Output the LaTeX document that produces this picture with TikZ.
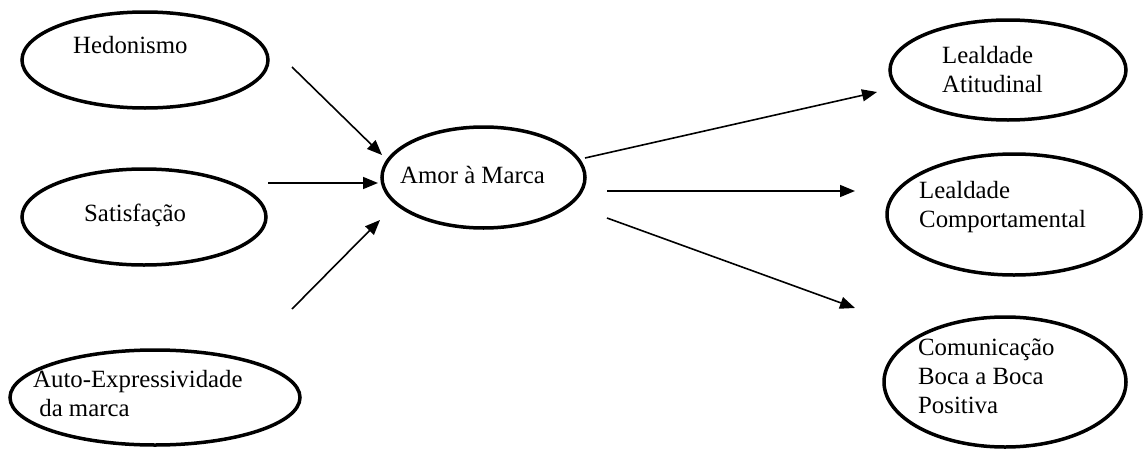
\documentclass[tikz,border=0pt]{standalone}
\usepackage{fontspec}
\setmainfont{Liberation Serif}
\usetikzlibrary{shapes.geometric,arrows.meta}
\begin{document}
\begin{tikzpicture}[x=1pt,y=-1pt,
  oval/.style={ellipse,draw,line width=3.5pt,inner sep=0pt},
  lbl/.style={anchor=base west,inner sep=0pt,align=left,font=\fontsize{24.8}{28.6}\selectfont},
  conn/.style={line width=1.6pt,-{Triangle[length=15pt,width=12pt]}}]
\useasboundingbox (0,0) rectangle (1144,450);
% ellipses
\node[oval,minimum width=246pt,minimum height=96pt] (hed) at (145,60) {};
\node[oval,minimum width=244pt,minimum height=96pt] (sat) at (144,217) {};
\node[oval,minimum width=290pt,minimum height=95pt] (aut) at (155,397.5) {};
\node[oval,minimum width=203pt,minimum height=101pt] (amor) at (483.5,177.5) {};
\node[oval,minimum width=236pt,minimum height=100pt] (la) at (1008,70) {};
\node[oval,minimum width=254pt,minimum height=121pt] (lc) at (1014,214.5) {};
\node[oval,minimum width=242pt,minimum height=130pt] (cbp) at (1005,382) {};
% texts (base = baseline of last line)
\node[lbl] (thed) at (73,53) {Hedonismo};
\node[lbl] (tsat) at (84,221) {Satisfação};
\node[lbl] (taut) at (33,416) {Auto-Expressividade\\\ da marca};
\node[lbl] (tamor) at (400,183) {Amor à Marca};
\node[lbl] (tla) at (942,92) {Lealdade\\Atitudinal};
\node[lbl] (tlc) at (919,227) {Lealdade\\Comportamental};
\node[lbl] (tcbp) at (918,413) {Comunicação\\Boca a Boca\\Positiva};
% connector endpoints
\coordinate (a1s) at (292,67);  \coordinate (a1e) at (382,155);
\coordinate (a2s) at (268,183); \coordinate (a2e) at (378,183);
\coordinate (a3s) at (292,309); \coordinate (a3e) at (380,220);
\coordinate (b1s) at (585,158); \coordinate (b1e) at (877,92);
\coordinate (b2s) at (607,191); \coordinate (b2e) at (855,191);
\coordinate (b3s) at (607,218); \coordinate (b3e) at (855,308);
\draw[conn] (a1s) -- (a1e);
\draw[conn] (a2s) -- (a2e);
\draw[conn] (a3s) -- (a3e);
\draw[conn] (b1s) -- (b1e);
\draw[conn] (b2s) -- (b2e);
\draw[conn] (b3s) -- (b3e);
\end{tikzpicture}
\end{document}
